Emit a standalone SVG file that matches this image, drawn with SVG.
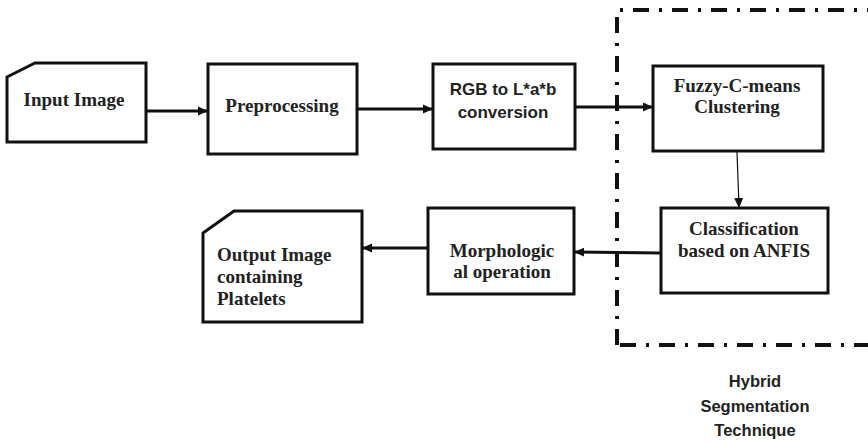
<svg xmlns="http://www.w3.org/2000/svg" width="868" height="442" viewBox="0 0 868 442">
  <style>
    .box { fill: #fff; stroke: #111; stroke-width: 3; }
    .serif { font-family: "Liberation Serif", "Times New Roman", serif; font-weight: bold; font-size: 19px; fill: #222; }
    .sans { font-family: "Liberation Sans", Arial, sans-serif; font-weight: bold; font-size: 17px; fill: #222; }
    .label { font-family: "Liberation Sans", Arial, sans-serif; font-weight: bold; font-size: 16.5px; fill: #222; }
    .flow { fill: none; stroke: #111; stroke-width: 3; }
    .thin { fill: none; stroke: #111; stroke-width: 1.2; }
    .region { fill: none; stroke: #111; stroke-width: 4; stroke-dasharray: 16 10 3 10; }
  </style>
  <defs>
    <marker id="arrow" viewBox="0 0 10 10" refX="9" refY="5" markerWidth="10" markerHeight="10" markerUnits="userSpaceOnUse" orient="auto">
      <path d="M0,0.5 L10,5 L0,9.5 Z" fill="#111"/>
    </marker>
  </defs>

  <rect width="868" height="442" fill="#fff"/>

  <!-- hybrid segmentation region -->
  <g id="hybrid-region">
    <path class="region" d="M617,345 L617,10 L870,10"/>
    <path class="region" d="M620,345 L870,345"/>
    <text class="label" text-anchor="middle" x="755" y="387">Hybrid</text>
    <text class="label" text-anchor="middle" x="755" y="412">Segmentation</text>
    <text class="label" text-anchor="middle" x="755" y="436">Technique</text>
  </g>

  <!-- connectors -->
  <g id="connectors">
    <line class="flow" x1="146" y1="111" x2="207" y2="111" marker-end="url(#arrow)"/>
    <line class="flow" x1="357" y1="109" x2="432" y2="109" marker-end="url(#arrow)"/>
    <line class="flow" x1="575" y1="107" x2="652" y2="107" marker-end="url(#arrow)"/>
    <line class="thin" x1="737" y1="152" x2="739" y2="207" marker-end="url(#arrow)"/>
    <line class="flow" x1="661" y1="253" x2="575" y2="252" marker-end="url(#arrow)"/>
    <line class="flow" x1="428" y1="248" x2="363" y2="248" marker-end="url(#arrow)"/>
  </g>

  <g id="input-image">
    <path class="box" d="M7,77 L35,63 L146,63 L146,142 L7,142 Z"/>
    <text class="serif" text-anchor="middle" x="74" y="106">Input Image</text>
  </g>

  <g id="preprocessing">
    <rect class="box" x="208" y="64" width="149" height="90"/>
    <text class="serif" text-anchor="middle" x="282" y="112">Preprocessing</text>
  </g>

  <g id="rgb-to-lab">
    <rect class="box" x="433" y="64" width="142" height="85"/>
    <text class="sans" text-anchor="middle" x="503" y="95">RGB to L*a*b</text>
    <text class="sans" text-anchor="middle" x="503" y="118">conversion</text>
  </g>

  <g id="fuzzy-c-means">
    <rect class="box" x="653" y="66" width="170" height="85"/>
    <text class="serif" text-anchor="middle" x="737" y="92">Fuzzy-C-means</text>
    <text class="serif" text-anchor="middle" x="737" y="113">Clustering</text>
  </g>

  <g id="classification">
    <rect class="box" x="661" y="208" width="167" height="85"/>
    <text class="serif" text-anchor="middle" x="744" y="235">Classification</text>
    <text class="serif" text-anchor="middle" x="744" y="257">based on ANFIS</text>
  </g>

  <g id="morphological">
    <rect class="box" x="428" y="208" width="146" height="86"/>
    <text class="serif" text-anchor="middle" x="502" y="257">Morphologic</text>
    <text class="serif" text-anchor="middle" x="502" y="278">al operation</text>
  </g>

  <g id="output-image">
    <path class="box" d="M203,233 L234,211 L362,211 L362,322 L203,322 Z"/>
    <text class="serif" x="217" y="261">Output Image</text>
    <text class="serif" x="217" y="283">containing</text>
    <text class="serif" x="217" y="305">Platelets</text>
  </g>
</svg>
